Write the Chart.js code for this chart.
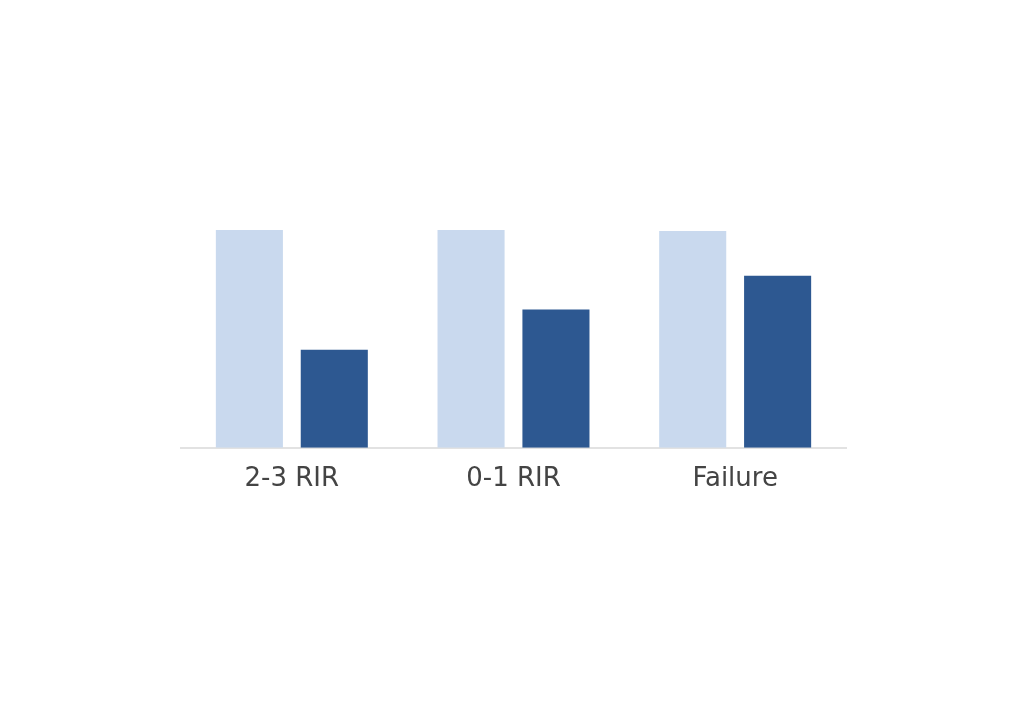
<!DOCTYPE html>
<html>
<head>
<meta charset="utf-8">
<script src="https://cdn.jsdelivr.net/npm/chart.js@4"></script>
<style>
  html, body { margin: 0; padding: 0; background: #ffffff; }
  #wrap { width: 1024px; height: 726px; }
</style>
</head>
<body>
<div id="wrap"><canvas id="chart"></canvas></div>
<script>
const categories = ['2-3 RIR', '0-1 RIR', 'Failure'];
const lightValues = [1.0, 1.0, 0.995];
const darkValues = [0.45, 0.635, 0.79];

new Chart(document.getElementById('chart'), {
    type: 'bar',
    data: {
        labels: categories,
        datasets: [
            { data: lightValues, backgroundColor: '#c9d9ee', barPercentage: 0.79, categoryPercentage: 0.766 },
            { data: darkValues, backgroundColor: '#2d5891', barPercentage: 0.79, categoryPercentage: 0.766 },
        ],
    },
    options: {
        responsive: true,
        maintainAspectRatio: false,
        animation: false,
        layout: { padding: { left: 181, right: 178, top: 230, bottom: 223 } },
        plugins: { legend: { display: false }, tooltip: { enabled: false } },
        scales: {
            y: { display: false, min: 0, max: 1 },
            x: {
                grid: { display: false },
                border: { color: '#e2e2e2', width: 2 },
                ticks: { color: '#444444', font: { family: 'DejaVu Sans', size: 26 }, padding: 8 },
            },
        },
    },
});
</script>
</body>
</html>
